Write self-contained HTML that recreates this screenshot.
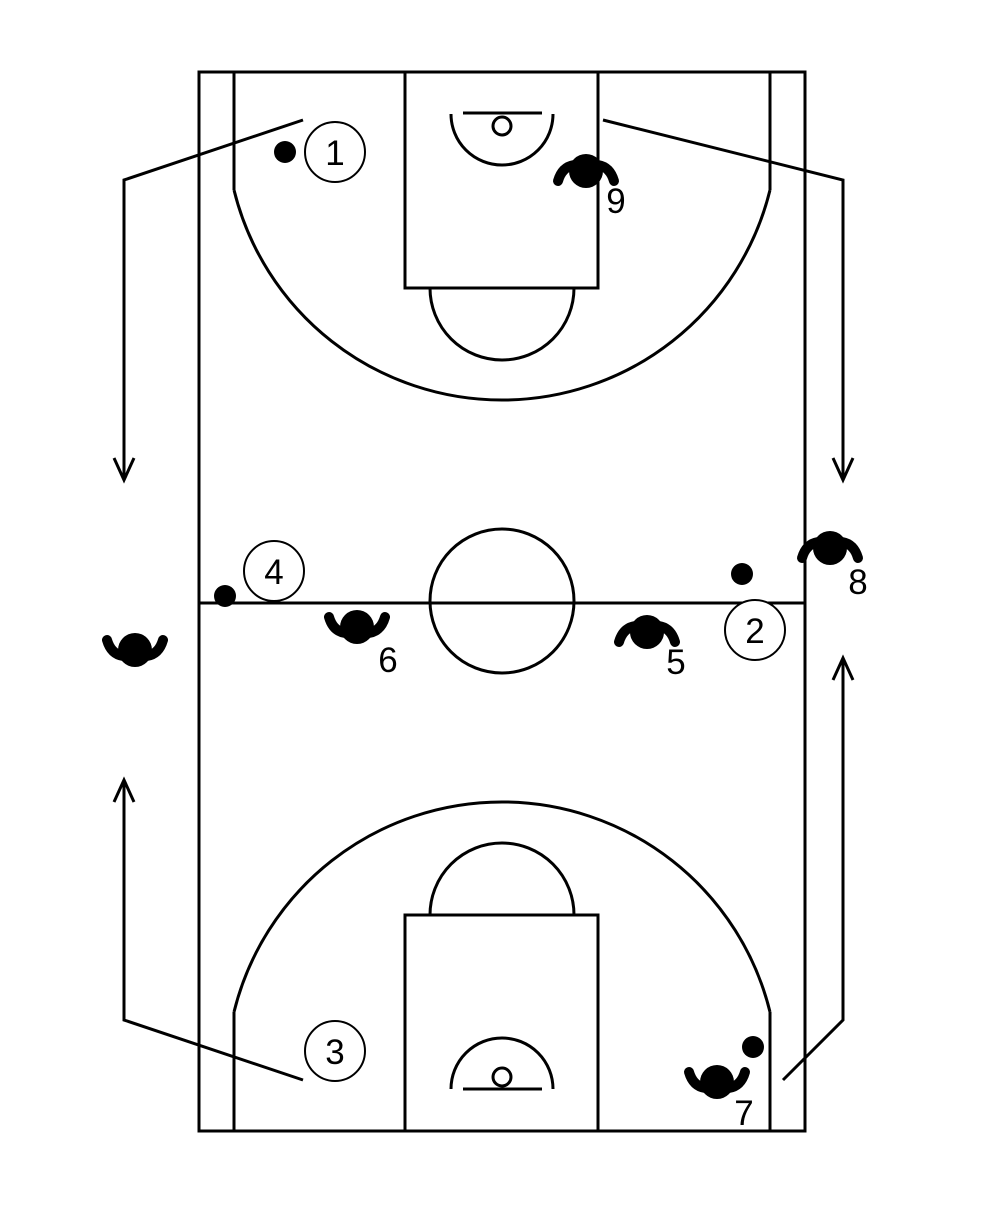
<!DOCTYPE html>
<html><head><style>body{margin:0;background:#fff}svg{display:block}</style></head>
<body>
<svg width="990" height="1230" xmlns="http://www.w3.org/2000/svg">
<defs>
<g id="du"><circle cx="0" cy="0" r="17" fill="#000"/><path d="M-12,6 Q-24,4 -28,-10 M12,6 Q24,4 28,-10" fill="none" stroke="#000" stroke-width="10" stroke-linecap="round"/></g>
<g id="dd"><circle cx="0" cy="0" r="17" fill="#000"/><path d="M-12,-6 Q-24,-4 -28,10 M12,-6 Q24,-4 28,10" fill="none" stroke="#000" stroke-width="10" stroke-linecap="round"/></g>
</defs>
<g fill="none" stroke="#000" stroke-width="3">
<rect x="199" y="72" width="606" height="1059"/>
<line x1="234" y1="72" x2="234" y2="190"/><line x1="770" y1="72" x2="770" y2="190"/>
<path d="M234,190 A276,276 0 0 0 770,190"/>
<line x1="234" y1="1131" x2="234" y2="1012"/><line x1="770" y1="1131" x2="770" y2="1012"/>
<path d="M234,1012 A276,276 0 0 1 770,1012"/>
<rect x="405" y="72" width="193" height="216"/>
<path d="M430,288 A72,72 0 0 0 574,288"/>
<rect x="405" y="915" width="193" height="216"/>
<path d="M430,915 A72,72 0 0 1 574,915"/>
<circle cx="502" cy="126" r="9"/><line x1="463" y1="113" x2="542" y2="113"/>
<path d="M451,114 A51,51 0 0 0 553,114"/>
<circle cx="502" cy="1077" r="9"/><line x1="463" y1="1089" x2="542" y2="1089"/>
<path d="M451,1089 A51,51 0 0 1 553,1089"/>
<line x1="199" y1="603" x2="805" y2="603"/>
<circle cx="502" cy="601" r="72"/>
<polyline points="303,120 124,180 124,478"/><polyline points="114,458 124,480 134,458"/>
<polyline points="603,120 843,180 843,478"/><polyline points="833,458 843,480 853,458"/>
<polyline points="303,1080 124,1020 124,782"/><polyline points="114,802 124,780 134,802"/>
<polyline points="783,1080 843,1020 843,660"/><polyline points="833,680 843,658 853,680"/>
<g fill="#fff" stroke-width="2">
<circle cx="335" cy="152" r="30"/><circle cx="274" cy="571" r="30"/>
<circle cx="755" cy="630" r="30"/><circle cx="335" cy="1051" r="30"/>
</g>
</g>
<g fill="#000">
<circle cx="285" cy="152" r="11"/><circle cx="225" cy="596" r="11"/>
<circle cx="742" cy="574" r="11"/><circle cx="753" cy="1047" r="11"/>
</g>
<use href="#dd" x="586" y="171"/><use href="#dd" x="830" y="548"/>
<use href="#du" x="357" y="627"/><use href="#dd" x="647" y="632"/>
<use href="#du" x="135" y="650"/><use href="#du" x="717" y="1082"/>
<g font-family="Liberation Sans, sans-serif" font-size="35" text-anchor="middle" fill="#000">
<text x="335" y="165">1</text><text x="274" y="584">4</text>
<text x="755" y="643">2</text><text x="335" y="1064">3</text>
<text x="616" y="213">9</text><text x="858" y="594">8</text>
<text x="388" y="672">6</text><text x="676" y="674">5</text>
<text x="744" y="1125">7</text>
</g>
</svg>
</body></html>
